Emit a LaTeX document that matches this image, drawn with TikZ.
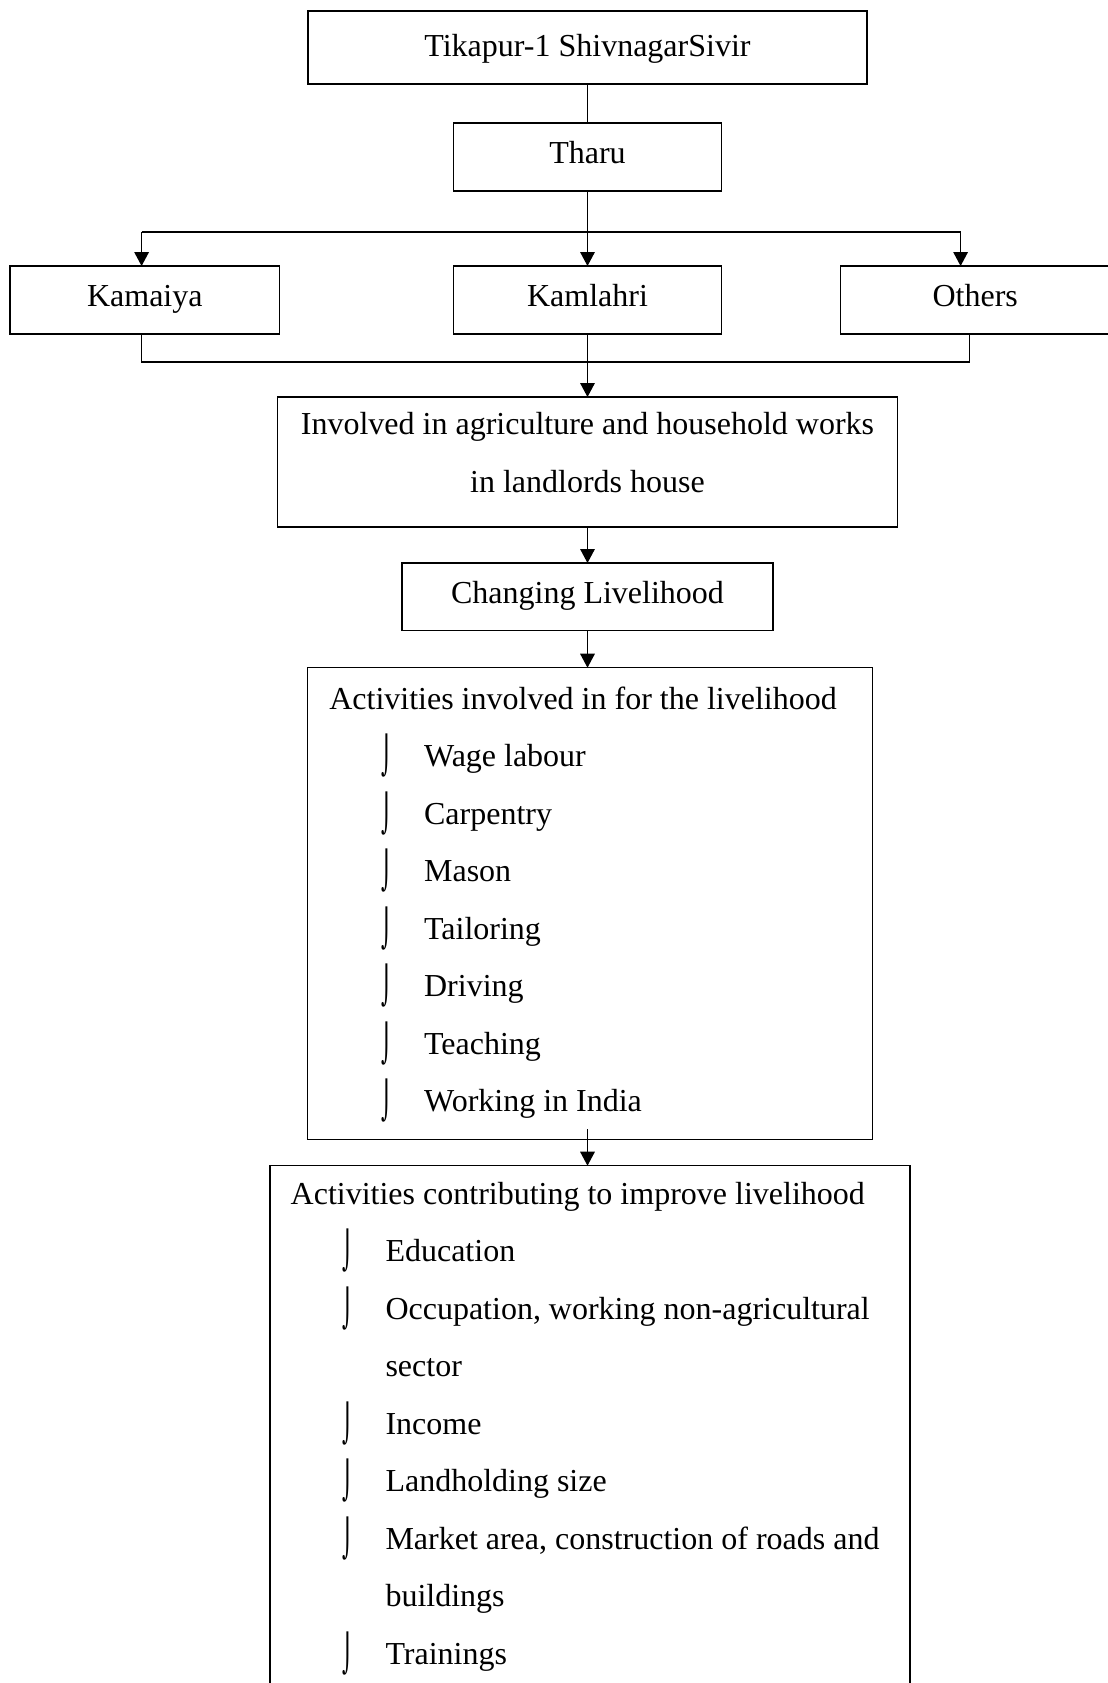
\documentclass[tikz,border=0pt]{standalone}
\usepackage{fontspec}
\setmainfont{Liberation Serif}
\newfontfamily\bulfont{DejaVu Sans}
\usetikzlibrary{positioning,arrows.meta}
\newcommand{\flowfont}{\fontsize{16}{28.75}\selectfont}
\newcommand{\itm}[1]{\hspace*{26pt}\makebox[21.4pt][l]{\raisebox{-1pt}{\scalebox{0.65}[1.15]{\bulfont ⌡}}}#1}
\newcommand{\itmcont}[1]{\hspace*{47.4pt}#1}
\tikzstyle{block} = [rectangle, draw=black, line width=0.65pt, text=black, font=\flowfont, align=center, inner sep=0pt, outer sep=0pt]
\tikzstyle{single} = [block, text height=10.6pt, text depth=4.2pt]
\tikzstyle{listtext} = [text=black, font=\flowfont, align=left, inner sep=0pt, outer sep=0pt, anchor=base west]
\tikzstyle{tline} = [draw, line width=0.65pt]
\tikzstyle{tedge} = [draw, line width=0.65pt, -{Triangle[length=7pt, width=7.3pt]}]

\begin{document}
\begin{tikzpicture}
\useasboundingbox (0,0) rectangle (554pt,-841.5pt);
\clip (0,0) rectangle (554pt,-841.5pt);

% boxes =============================

% camp and caste
\node[single, text height=12.8pt, minimum width=279.5pt, minimum height=36.5pt] (camp) at (293.75pt,-23.75pt) {Tikapur-1 ShivnagarSivir};
\node[single, minimum width=134.3pt, minimum height=34pt, below=19.5pt of camp] (tharu) {Tharu};

% groups
\node[single, minimum width=134.3pt, minimum height=34pt, below=37.5pt of tharu] (kamlahri) {Kamlahri};
\node[single, minimum width=134.7pt, minimum height=34pt, left=86.85pt of kamlahri] (kamaiya) {Kamaiya};
\node[single, minimum width=134.7pt, minimum height=34pt, right=59.35pt of kamlahri] (others) {Others};

% work
\node[block, text height=39.75pt, text depth=9.35pt, minimum width=310pt, minimum height=65pt, below=31.5pt of kamlahri] (involved) {Involved in agriculture and household works\\in landlords house};
\node[single, minimum width=185.5pt, minimum height=33.85pt, below=18pt of involved] (changing) {Changing Livelihood};

% lists
\node[block, minimum width=282.5pt, minimum height=235.8pt, below=18.5pt of changing, xshift=1.3pt] (acts1) {};
\node[block, minimum width=320pt, minimum height=300pt, below=13.2pt of acts1, xshift=-0.05pt] (acts2) {};

% the last line of each list sits on the anchor
\node[listtext] (acts1txt) at ([xshift=10.85pt, yshift=-222.05pt]acts1.north west) {Activities involved in for the livelihood\\
\itm{Wage labour}\\
\itm{Carpentry}\\
\itm{Mason}\\
\itm{Tailoring}\\
\itm{Driving}\\
\itm{Teaching}\\
\itm{Working in India}};

\node[listtext] (acts2txt) at ([xshift=10.35pt, yshift=-249.15pt]acts2.north west) {Activities contributing to improve livelihood\\
\itm{Education}\\
\itm{Occupation, working non-agricultural}\\
\itmcont{sector}\\
\itm{Income}\\
\itm{Landholding size}\\
\itm{Market area, construction of roads and}\\
\itmcont{buildings}\\
\itm{Trainings}};

% edges
\draw[tline] (camp) -- (tharu);
\coordinate (splitL) at ([xshift=-1.6pt, yshift=17pt]kamaiya.north);
\coordinate (splitR) at ([xshift=-7.3pt, yshift=17pt]others.north);
\draw[tline] (splitL) -- (splitR);
\draw[tedge] (splitL) -- (splitL |- kamaiya.north);
\draw[tedge] (tharu) -- (kamlahri);
\draw[tedge] (splitR) -- (splitR |- others.north);

\coordinate (joinL) at ([xshift=-1.6pt, yshift=-14pt]kamaiya.south);
\coordinate (joinR) at ([xshift=-2.85pt, yshift=-14pt]others.south);
\draw[tline] (joinL |- kamaiya.south) -- (joinL) -- (joinR) -- (joinR |- others.south);
\draw[tedge] (kamlahri) -- (involved);
\draw[tedge] (involved) -- (changing);
\draw[tedge] (changing) -- (changing |- acts1.north);
\coordinate (fromacts1) at ([yshift=5pt]changing |- acts1.south);
\draw[tedge] (fromacts1) -- (fromacts1 |- acts2.north);

\end{tikzpicture}
\end{document}
